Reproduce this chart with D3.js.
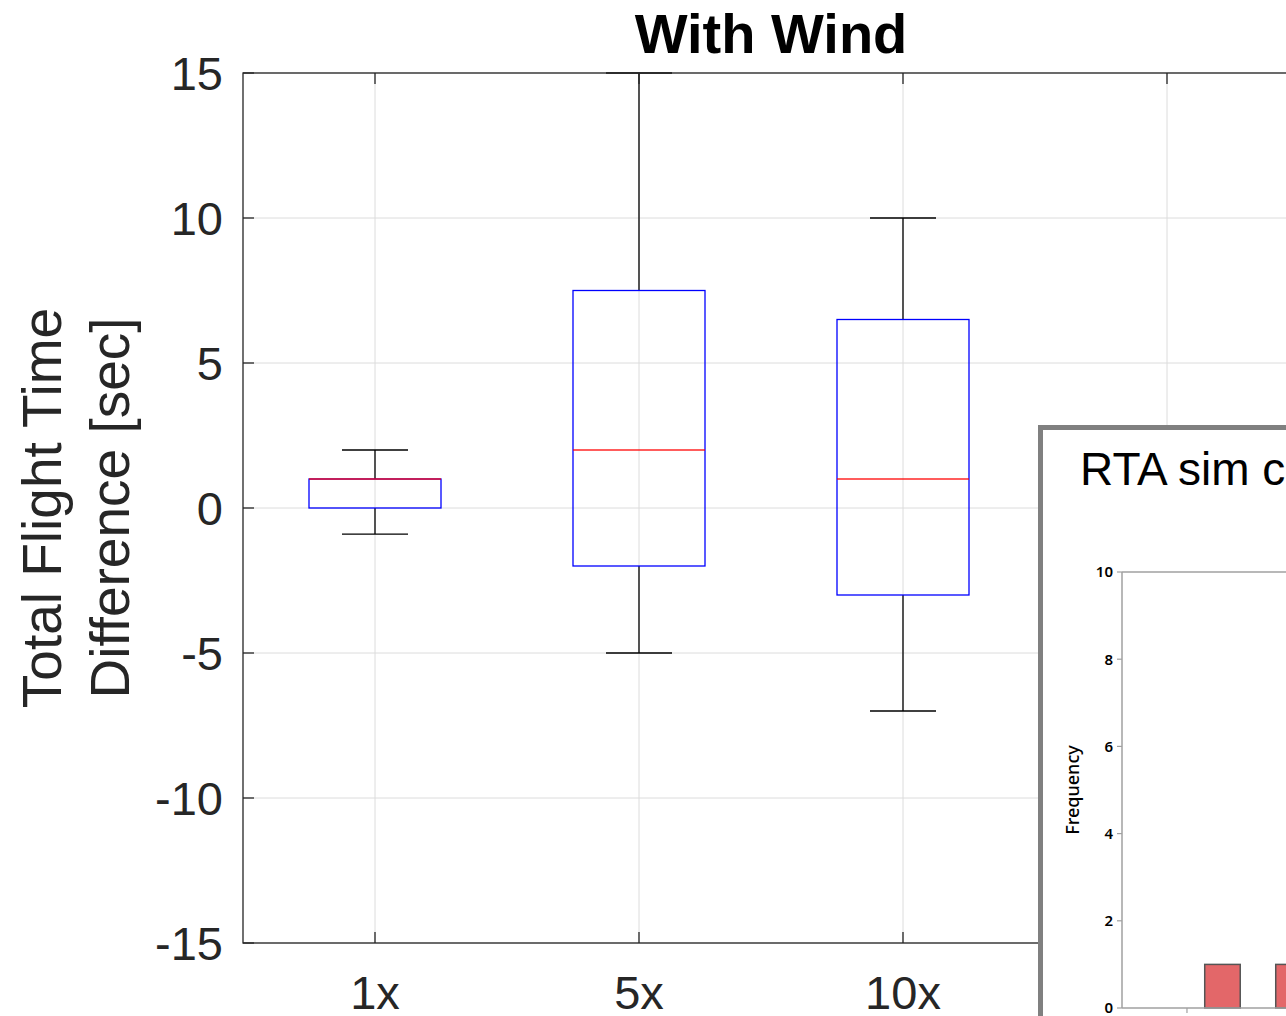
<!DOCTYPE html>
<html>
<head>
<meta charset="utf-8">
<script src="https://cdn.jsdelivr.net/npm/d3@7"></script>
<style>
  html, body { margin: 0; padding: 0; background: #fff; overflow: hidden; }
  svg { display: block; }
</style>
</head>
<body>
<svg id="chart" width="1286" height="1016"></svg>
<script>
// ---- data ----
const categories = ["1x", "5x", "10x", "20x"];
const whiskerLow  = [-0.9, -5, -7];
const q1          = [0, -2, -3];
const medians     = [1, 2, 1];
const q3          = [1, 7.5, 6.5];
const whiskerHigh = [2, 15, 10];
const yTicks = [-15, -10, -5, 0, 5, 10, 15];
const titleText = "With Wind";
const yLabelLines = ["Total Flight Time", "Difference [sec]"];

// inset histogram (partially visible)
const insetTitle = "RTA sim comparison";
const histBinStarts = [-9.5, -8.5, -7.5];
const histCounts = [1, 0, 1];
const histYTicks = [0, 2, 4, 6, 8, 10];
const histXTicks = [-10, -5];

// ---- layout ----
const svg = d3.select("#chart");
const M = { left: 243, top: 73, right: 1299, bottom: 943 };
const ink = "#262626";
const font = "'Liberation Sans', Arial, Helvetica, sans-serif";

const x = d3.scaleBand().domain(categories).range([M.left, M.right]).padding(0);
const y = d3.scaleLinear().domain([-15, 15]).range([M.bottom, M.top]);

// grid
const grid = svg.append("g");
grid.selectAll("line.gx").data(categories).join("line")
  .attr("x1", d => x(d) + x.bandwidth() / 2).attr("x2", d => x(d) + x.bandwidth() / 2)
  .attr("y1", M.top).attr("y2", M.bottom)
  .attr("stroke", "#dcdcdc").attr("stroke-width", 1);
grid.selectAll("line.gy").data(yTicks).join("line")
  .attr("x1", M.left).attr("x2", M.right)
  .attr("y1", d => y(d)).attr("y2", d => y(d))
  .attr("stroke", "#dcdcdc").attr("stroke-width", 1);

// boxes
const boxes = svg.append("g");
const bw = x.bandwidth() * 0.5;
const cw = x.bandwidth() * 0.25;
medians.forEach((m, i) => {
  const cx = x(categories[i]) + x.bandwidth() / 2;
  const g = boxes.append("g");
  g.append("line").attr("x1", cx).attr("x2", cx).attr("y1", y(q3[i])).attr("y2", y(whiskerHigh[i]))
    .attr("stroke", "#000").attr("stroke-width", 1.3);
  g.append("line").attr("x1", cx).attr("x2", cx).attr("y1", y(q1[i])).attr("y2", y(whiskerLow[i]))
    .attr("stroke", "#000").attr("stroke-width", 1.3);
  g.append("line").attr("x1", cx - cw / 2).attr("x2", cx + cw / 2).attr("y1", y(whiskerHigh[i])).attr("y2", y(whiskerHigh[i]))
    .attr("stroke", "#000").attr("stroke-width", 1.3);
  g.append("line").attr("x1", cx - cw / 2).attr("x2", cx + cw / 2).attr("y1", y(whiskerLow[i])).attr("y2", y(whiskerLow[i]))
    .attr("stroke", "#000").attr("stroke-width", 1.3);
  g.append("rect").attr("x", cx - bw / 2).attr("width", bw)
    .attr("y", y(q3[i])).attr("height", y(q1[i]) - y(q3[i]))
    .attr("fill", "none").attr("stroke", "#0000ff").attr("stroke-width", 1.3);
  g.append("line").attr("x1", cx - bw / 2).attr("x2", cx + bw / 2).attr("y1", y(m)).attr("y2", y(m))
    .attr("stroke", "#ff0000").attr("stroke-width", 1.3).attr("opacity", 0.85);
});

// axes frame
const frame = svg.append("g");
frame.append("rect").attr("x", M.left).attr("y", M.top)
  .attr("width", M.right - M.left).attr("height", M.bottom - M.top)
  .attr("fill", "none").attr("stroke", ink).attr("stroke-width", 1.3);

frame.selectAll("line.ty").data(yTicks).join("line")
  .attr("x1", M.left).attr("x2", M.left + 11)
  .attr("y1", d => y(d)).attr("y2", d => y(d))
  .attr("stroke", ink).attr("stroke-width", 1.3);
frame.selectAll("text.ty").data(yTicks).join("text")
  .attr("x", M.left - 20).attr("y", d => y(d)).attr("dy", "0.36em")
  .attr("text-anchor", "end").attr("font-family", font).attr("font-size", 47)
  .attr("fill", ink).text(d => d);

frame.selectAll("line.tx").data(categories).join("line")
  .attr("x1", d => x(d) + x.bandwidth() / 2).attr("x2", d => x(d) + x.bandwidth() / 2)
  .attr("y1", M.bottom).attr("y2", M.bottom - 11)
  .attr("stroke", ink).attr("stroke-width", 1.3);
frame.selectAll("line.txt").data(categories).join("line")
  .attr("x1", d => x(d) + x.bandwidth() / 2).attr("x2", d => x(d) + x.bandwidth() / 2)
  .attr("y1", M.top).attr("y2", M.top + 11)
  .attr("stroke", ink).attr("stroke-width", 1.3);
frame.selectAll("text.tx").data(categories).join("text")
  .attr("x", d => x(d) + x.bandwidth() / 2).attr("y", 1009)
  .attr("text-anchor", "middle").attr("font-family", font).attr("font-size", 47)
  .attr("fill", ink).text(d => d);

// title
svg.append("text").attr("x", (M.left + M.right) / 2).attr("y", 53)
  .attr("text-anchor", "middle").attr("font-family", font).attr("font-weight", "bold")
  .attr("font-size", 56).attr("fill", "#000").text(titleText);

// y label
const yl = svg.append("text")
  .attr("transform", `translate(61, ${(M.top + M.bottom) / 2}) rotate(-90)`)
  .attr("text-anchor", "middle").attr("font-family", font).attr("font-size", 55).attr("fill", ink);
yLabelLines.forEach((t, i) => {
  yl.append("tspan").attr("x", 0).attr("dy", i === 0 ? 0 : 68).text(t);
});

// ---- inset ----
const inset = svg.append("g");
inset.append("rect").attr("x", 1040.5).attr("y", 427.5).attr("width", 400).attr("height", 700)
  .attr("fill", "#fff").attr("stroke", "#808080").attr("stroke-width", 5);
inset.append("text").attr("x", 1080).attr("y", 485)
  .attr("font-family", "'Liberation Sans', Arial, sans-serif").attr("font-size", 46)
  .attr("fill", "#000").text(insetTitle);

const hy = d3.scaleLinear().domain([0, 10]).range([1008, 572]);
const hx = d3.scaleLinear().domain([-11.83, -4]).range([1122, 1400]);
const insetFont = "'Noto Sans', 'Open Sans', sans-serif";
const axisGray = "#a0a0a0";

inset.selectAll("rect.bar").data(histBinStarts).join("rect")
  .attr("x", d => hx(d)).attr("width", d => hx(d + 1) - hx(d))
  .attr("y", (d, i) => hy(histCounts[i])).attr("height", (d, i) => hy(0) - hy(histCounts[i]))
  .attr("fill", "#e36769").attr("stroke", "#555").attr("stroke-width", 1.5);

inset.append("line").attr("x1", 1122).attr("x2", 1122).attr("y1", hy(10)).attr("y2", hy(0))
  .attr("stroke", axisGray).attr("stroke-width", 1.5);
inset.append("line").attr("x1", 1122).attr("x2", 1300).attr("y1", hy(10)).attr("y2", hy(10))
  .attr("stroke", axisGray).attr("stroke-width", 1.5);
inset.append("line").attr("x1", 1122).attr("x2", 1300).attr("y1", hy(0)).attr("y2", hy(0))
  .attr("stroke", axisGray).attr("stroke-width", 1.5);
inset.selectAll("line.hyt").data(histYTicks).join("line")
  .attr("x1", 1117).attr("x2", 1122).attr("y1", d => hy(d)).attr("y2", d => hy(d))
  .attr("stroke", axisGray).attr("stroke-width", 1.2);
inset.selectAll("text.hyt").data(histYTicks).join("text")
  .attr("x", 1113).attr("y", d => hy(d)).attr("dy", "0.36em")
  .attr("text-anchor", "end").attr("font-family", insetFont).attr("font-size", 15)
  .attr("font-weight", 600).attr("fill", "#000").text(d => d);
inset.selectAll("line.hxt").data(histXTicks).join("line")
  .attr("x1", d => hx(d)).attr("x2", d => hx(d)).attr("y1", hy(0)).attr("y2", hy(0) + 5)
  .attr("stroke", axisGray).attr("stroke-width", 1.2);
inset.append("text")
  .attr("transform", `translate(1079, ${hy(5)}) rotate(-90)`)
  .attr("text-anchor", "middle").attr("font-family", insetFont).attr("font-size", 18)
  .attr("font-weight", 500).attr("fill", "#000").text("Frequency");
</script>
</body>
</html>
